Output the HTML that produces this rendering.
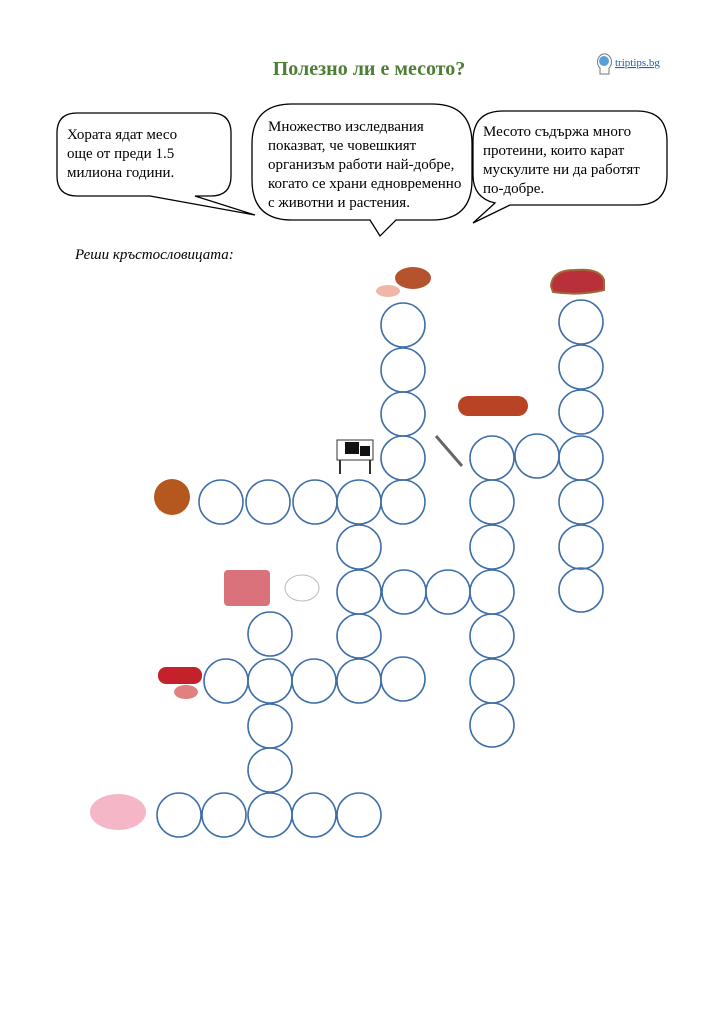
<!DOCTYPE html>
<html><head><meta charset="utf-8"><style>
body{margin:0;background:#fff;}
svg{display:block;}
text{font-family:"Liberation Serif",serif;}
</style></head><body>
<svg width="724" height="1024" viewBox="0 0 724 1024" xmlns="http://www.w3.org/2000/svg">
<text x="369" y="75" text-anchor="middle" font-size="20" font-weight="bold" fill="#4e7d34">Полезно ли е месото?</text>
<g>
<path d="M600 68 a7 8 0 1 1 9 0 v6 h-9z" fill="#fff" stroke="#777" stroke-width="1"/>
<circle cx="604" cy="61" r="5" fill="#5aa0d8"/>
<text x="615" y="66" font-family="Liberation Sans,sans-serif" font-size="11" fill="#1f5fa8" text-decoration="underline">triptips.bg</text>
</g>
<g fill="#fff" stroke="#000" stroke-width="1.3">
<path d="M77 113 H211 Q231 113 231 133 V176 Q231 196 211 196 H195 L255 215 L150 196 H77 Q57 196 57 176 V133 Q57 113 77 113Z"/>
<path d="M292 104 H432 Q472 104 472 144 V180 Q472 220 432 220 H396 L380 236 L370 220 H292 Q252 220 252 180 V144 Q252 104 292 104Z"/>
<path d="M503 111 H637 Q667 111 667 141 V175 Q667 205 637 205 H510 L473 223 L495 203 Q473 198 473 175 V141 Q473 111 503 111Z"/>
</g>
<g font-size="15" fill="#000">
<text x="67" y="139">Хората ядат месо</text>
<text x="67" y="158">още от преди 1.5</text>
<text x="67" y="177">милиона години.</text>
<text x="268" y="131">Множество изследвания</text>
<text x="268" y="150">показват, че човешкият</text>
<text x="268" y="169">организъм работи най-добре,</text>
<text x="268" y="188">когато се храни едновременно</text>
<text x="268" y="207">с животни и растения.</text>
<text x="483" y="136">Месото съдържа много</text>
<text x="483" y="155">протеини, които карат</text>
<text x="483" y="174">мускулите ни да работят</text>
<text x="483" y="193">по-добре.</text>
</g>
<text x="75" y="259" font-size="15" font-style="italic">Реши кръстословицата:</text>
<g fill="none" stroke="#3f6fa8" stroke-width="1.6">
<circle cx="403" cy="325" r="22"/><circle cx="403" cy="370" r="22"/><circle cx="403" cy="414" r="22"/><circle cx="403" cy="458" r="22"/><circle cx="403" cy="502" r="22"/>
<circle cx="221" cy="502" r="22"/><circle cx="268" cy="502" r="22"/><circle cx="315" cy="502" r="22"/><circle cx="359" cy="502" r="22"/>
<circle cx="359" cy="547" r="22"/><circle cx="359" cy="592" r="22"/><circle cx="359" cy="636" r="22"/><circle cx="359" cy="681" r="22"/>
<circle cx="404" cy="592" r="22"/><circle cx="448" cy="592" r="22"/><circle cx="492" cy="592" r="22"/>
<circle cx="492" cy="458" r="22"/><circle cx="492" cy="502" r="22"/><circle cx="492" cy="547" r="22"/><circle cx="492" cy="636" r="22"/><circle cx="492" cy="681" r="22"/><circle cx="492" cy="725" r="22"/>
<circle cx="537" cy="456" r="22"/>
<circle cx="581" cy="322" r="22"/><circle cx="581" cy="367" r="22"/><circle cx="581" cy="412" r="22"/><circle cx="581" cy="458" r="22"/><circle cx="581" cy="502" r="22"/><circle cx="581" cy="547" r="22"/><circle cx="581" cy="590" r="22"/>
<circle cx="226" cy="681" r="22"/><circle cx="270" cy="681" r="22"/><circle cx="314" cy="681" r="22"/><circle cx="403" cy="679" r="22"/>
<circle cx="270" cy="634" r="22"/><circle cx="270" cy="726" r="22"/><circle cx="270" cy="770" r="22"/>
<circle cx="179" cy="815" r="22"/><circle cx="224" cy="815" r="22"/><circle cx="270" cy="815" r="22"/><circle cx="314" cy="815" r="22"/><circle cx="359" cy="815" r="22"/>
</g>
<ellipse cx="413" cy="278" rx="18" ry="11" fill="#b5532f"/>
<ellipse cx="388" cy="291" rx="12" ry="6" fill="#f0b7a8"/>
<path d="M551 286 Q552 270 575 270 Q600 268 604 280 L604 290 Q580 296 553 292Z" fill="#b8303a" stroke="#a06838" stroke-width="2"/>
<rect x="458" y="396" width="70" height="20" rx="10" fill="#b84325"/>
<path d="M436 436 L462 466" stroke="#666" stroke-width="3"/>
<path d="M337 440 h36 v20 h-36z" fill="#fff" stroke="#333"/><path d="M345 442 h14 v12 h-14z M360 446 h10 v10 h-10z" fill="#111"/>
<path d="M340 460 v14 M370 460 v14" stroke="#333" stroke-width="2"/>
<ellipse cx="172" cy="497" rx="18" ry="18" fill="#b4581f"/>
<rect x="224" y="570" width="46" height="36" rx="4" fill="#d9727a"/>
<ellipse cx="302" cy="588" rx="17" ry="13" fill="#fff" stroke="#bbb"/>
<rect x="158" y="667" width="44" height="17" rx="8" fill="#c4212a"/>
<ellipse cx="186" cy="692" rx="12" ry="7" fill="#e08080"/>
<ellipse cx="118" cy="812" rx="28" ry="18" fill="#f5b7c8"/>
</svg>
</body></html>
